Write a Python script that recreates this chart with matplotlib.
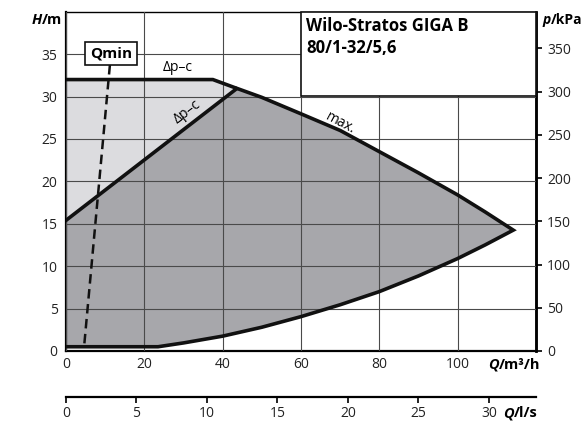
import numpy as np
import matplotlib.pyplot as plt
from matplotlib.patches import Rectangle

plt.rcParams['font.family'] = ['Open Sans', 'DejaVu Sans']

# ---- data (Q in m3/h, H in m) ----
q_max = [0, 37.5, 42.8, 50, 59.8, 70, 80, 90, 100, 107, 114.2]
h_max = [32.0, 32.0, 31.1, 29.9, 28.0, 26.0, 23.5, 21.0, 18.4, 16.4, 14.25]
q_low = [114.2, 107, 100, 90, 80, 70, 60, 50, 40, 30, 23.5, 0]
h_low = [14.25, 12.5, 10.9, 8.85, 7.0, 5.45, 4.05, 2.8, 1.75, 0.95, 0.5, 0.5]
q_dpv = [0, 43.5]
h_dpv = [15.4, 30.9]
q_qmin = [4.7, 11.25]
h_qmin = [0.9, 33.9]

x_ticks = [0, 20, 40, 60, 80, 100]
y_ticks = [0, 5, 10, 15, 20, 25, 30, 35]
p_ticks = [0, 50, 100, 150, 200, 250, 300, 350]
ls_ticks = [0, 5, 10, 15, 20, 25, 30]

title_lines = ["Wilo-Stratos GIGA B", "80/1-32/5,6"]

DARK = "#a7a7ab"
LIGHT = "#dcdcdf"
GRID = "#4a4a4a"

fig = plt.figure(figsize=(5.87, 4.24), dpi=100)
ax = fig.add_axes([0.1124, 0.1722, 0.8007, 0.8002])
ax.set_xlim(0, 120)
ax.set_ylim(0, 40)

# ---- filled regions ----
q_max_a = np.array(q_max)
h_max_a = np.array(h_max)
h_join = np.interp(q_dpv[1], q_max_a, h_max_a)
right = q_max_a > q_dpv[1]
dark_x = q_dpv + list(q_max_a[right]) + q_low[1:]
dark_y = [h_dpv[0], h_join] + list(h_max_a[right]) + h_low[1:]
ax.fill(dark_x, dark_y, color=DARK, lw=0, zorder=1)

left = q_max_a < q_dpv[1]
light_x = [0] + list(q_max_a[left]) + [q_dpv[1]]
light_y = [h_dpv[0]] + list(h_max_a[left]) + [h_join]
ax.fill(light_x, light_y, color=LIGHT, lw=0, zorder=1)

# ---- grid ----
ax.set_xticks(x_ticks)
ax.set_yticks(y_ticks)
ax.grid(True, color=GRID, lw=0.8)
ax.set_axisbelow(False)

# ---- curves ----
ax.plot(q_max + q_low[1:], h_max + h_low[1:], color="#111111", lw=2.6,
        solid_joinstyle="miter", zorder=3)
ax.plot(q_dpv, h_dpv, color="#111111", lw=2.6, zorder=3)
ax.plot(q_qmin, h_qmin, color="#111111", lw=1.8, ls=(0, (3.8, 2.2)), zorder=3)

# ---- labels on curves ----
ax.text(28.6, 33.4, "Δp–c", fontsize=10, ha="center", va="center", zorder=5)
ax.text(31.0, 28.2, "Δp–c", fontsize=10, ha="center", va="center",
        rotation=37, zorder=5)
ax.text(70.0, 26.9, "max.", fontsize=10, ha="center", va="center",
        rotation=-28, zorder=5)
ax.text(11.5, 35.1, "Qmin", fontsize=11, fontweight="bold", ha="center",
        va="center", zorder=6,
        bbox=dict(boxstyle="square,pad=0.3", fc="white", ec="#111111", lw=1.2))

# ---- title box ----
ax.add_patch(Rectangle((60, 30.1), 60, 9.9, fc="white", ec="#111111",
                       lw=1.2, zorder=4, clip_on=False))
ax.text(61.4, 37.76, title_lines[0], fontsize=12, fontweight="bold",
        va="baseline", zorder=5)
ax.text(61.4, 35.1, title_lines[1], fontsize=12, fontweight="bold",
        va="baseline", zorder=5)

# ---- spines / ticks ----
for s in ["left", "bottom"]:
    ax.spines[s].set_linewidth(1.6)
ax.spines["top"].set_linewidth(1.0)
ax.spines["right"].set_linewidth(1.8)
ax.tick_params(axis="both", length=0, labelsize=10, colors="#222222")
ax.tick_params(axis="x", pad=4)
ax.tick_params(axis="y", pad=6)

secy = ax.secondary_yaxis("right", functions=(lambda h: h * 9.81,
                                               lambda p: p / 9.81))
secy.set_yticks(p_ticks)
secy.spines["right"].set_linewidth(1.8)
secy.tick_params(length=4, width=1.4, pad=4, labelsize=10, colors="#222222")

secx = ax.secondary_xaxis(-0.1347, functions=(lambda q: q / 3.6,
                                               lambda l: l * 3.6))
secx.set_xticks(ls_ticks)
secx.spines["bottom"].set_linewidth(1.6)
secx.tick_params(length=4, width=1.4, pad=3, labelsize=10, colors="#222222")

# ---- axis names ----
def unit_label(x, y, sym, unit, size=10.5):
    ax.text(x, y, sym, transform=ax.transAxes, fontsize=size,
            fontweight="bold", style="italic", ha="right", va="center")
    ax.text(x, y, unit, transform=ax.transAxes, fontsize=size,
            fontweight="bold", ha="left", va="center")

unit_label(-0.052, 0.9755, "H", "/m")
unit_label(1.031, 0.9755, "p", "/kPa", 10)
unit_label(0.921, -0.041, "Q", "/m³/h")
unit_label(0.953, -0.183, "Q", "/l/s")

fig.savefig("out.png", dpi=100)
